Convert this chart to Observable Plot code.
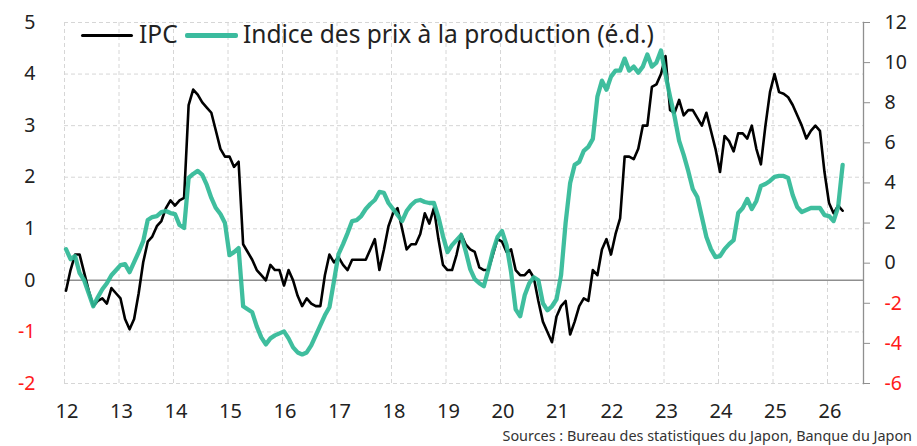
<!DOCTYPE html>
<html><head><meta charset="utf-8">
<script src="https://cdn.jsdelivr.net/npm/d3@7"></script>
<script src="https://cdn.jsdelivr.net/npm/@observablehq/plot@0.6"></script>
<style>
body{margin:0;background:#fff;font-family:"Noto Sans",sans-serif;}
#wrap{position:relative;width:917px;height:446px;overflow:hidden;}
.sw{position:absolute;border-radius:2px;}
.lt{position:absolute;font-size:24.5px;color:#222;white-space:nowrap;line-height:30px;top:19px;}
#caption{position:absolute;right:5px;top:426px;font-size:14.4px;color:#333;white-space:nowrap;}
</style></head><body>
<div id="wrap">
<div id="chart"></div>
<div class="sw" style="left:81px;top:33.5px;width:52px;height:3px;background:#000"></div>
<div class="lt" id="l1" style="left:139px"></div>
<div class="sw" style="left:185px;top:32.5px;width:53px;height:5px;background:#3bbb9e"></div>
<div class="lt" id="l2" style="left:243px"></div>
<div id="caption"></div>
</div>
<script>
const seriesNames = ["IPC", "Indice des prix à la production (é.d.)"];
const captionText = "Sources : Bureau des statistiques du Japon, Banque du Japon";
const startYear = 2012;
// IPC, % a/a (left axis), monthly from Jan 2012
const ipc = [
 -0.2,0.2,0.5,0.5,0.15,-0.2,-0.5,-0.4,-0.35,-0.45,-0.15,-0.25,
 -0.35,-0.75,-0.95,-0.75,-0.25,0.35,0.75,0.85,1.05,1.15,1.4,1.55,
 1.45,1.55,1.6,3.4,3.7,3.6,3.45,3.35,3.25,2.9,2.55,2.4,
 2.4,2.2,2.3,0.7,0.55,0.4,0.2,0.1,0.0,0.3,0.2,0.2,
 -0.1,0.2,0.0,-0.3,-0.5,-0.35,-0.45,-0.5,-0.5,0.1,0.5,0.35,
 0.45,0.3,0.2,0.4,0.4,0.4,0.4,0.6,0.8,0.2,0.6,1.05,
 1.3,1.4,1.0,0.6,0.7,0.7,0.9,1.3,1.1,1.4,0.8,0.3,
 0.2,0.2,0.5,0.9,0.7,0.6,0.55,0.25,0.2,0.2,0.5,0.8,
 0.75,0.55,0.6,0.2,0.1,0.1,0.2,0.05,-0.4,-0.8,-1.0,-1.2,
 -0.7,-0.5,-0.4,-1.05,-0.8,-0.5,-0.35,-0.4,0.2,0.1,0.6,0.8,
 0.5,0.9,1.2,2.4,2.4,2.35,2.55,3.0,3.0,3.75,3.8,4.0,
 4.35,3.3,3.25,3.5,3.2,3.3,3.3,3.15,3.0,3.25,2.9,2.55,
 2.1,2.8,2.7,2.5,2.85,2.85,2.75,3.0,2.55,2.25,3.0,3.65,
 4.0,3.65,3.62,3.55,3.4,3.2,3.0,2.75,2.9,3.0,2.9,2.1,
 1.5,1.3,1.45,1.35
];
// Producer price index, % a/a (right axis), monthly from Jan 2012
const ppi = [
 0.7,0.2,0.35,-0.5,-0.85,-1.5,-2.15,-1.7,-1.3,-1.0,-0.6,-0.35,
 -0.1,-0.05,-0.45,0.05,0.55,1.1,2.15,2.3,2.35,2.55,2.6,2.5,
 2.45,1.9,1.75,4.25,4.45,4.6,4.4,3.9,3.25,2.75,2.45,2.0,
 0.4,0.55,0.75,-2.15,-2.3,-2.45,-3.15,-3.7,-4.05,-3.75,-3.6,-3.5,
 -3.4,-3.75,-4.2,-4.45,-4.55,-4.45,-4.1,-3.6,-3.1,-2.6,-2.2,-0.9,
 0.45,0.95,1.5,2.1,2.15,2.35,2.7,2.95,3.15,3.55,3.5,3.0,
 2.7,2.4,2.1,2.6,2.9,3.1,3.15,3.05,3.0,3.0,2.3,1.35,
 0.55,0.9,1.15,1.4,0.6,-0.3,-0.8,-1.0,-1.15,-0.3,0.6,1.3,
 1.6,0.9,-0.45,-2.3,-2.65,-1.6,-1.0,-0.7,-0.85,-2.0,-2.35,-2.15,
 -1.8,-0.6,2.0,4.0,4.9,5.05,5.6,5.8,6.2,8.3,9.1,8.65,
 9.3,9.6,9.6,10.2,9.6,9.8,9.5,9.8,10.4,9.8,10.0,10.6,
 9.4,8.3,7.3,6.1,5.4,4.6,3.7,3.3,2.3,1.3,0.7,0.3,
 0.35,0.7,0.95,1.15,2.5,2.75,3.2,2.7,3.1,3.85,3.95,4.1,
 4.3,4.35,4.35,4.25,3.4,2.8,2.55,2.65,2.75,2.75,2.75,2.4,
 2.35,2.1,2.8,4.9
];
const yearTicks = [2012,2013,2014,2015,2016,2017,2018,2019,2020,2021,2022,2023,2024,2025,2026];
const leftTicks = [-2,-1,0,1,2,3,4,5];
const rightTicks = [-6,-4,-2,0,2,4,6,8,10,12];

const leftDomain = [-2, 5], rightDomain = [-6, 12];
const toLeft = r => leftDomain[0] + (r - rightDomain[0]) * (leftDomain[1]-leftDomain[0])/(rightDomain[1]-rightDomain[0]);
const fromLeft = v => String(Math.round(rightDomain[0] + (v - leftDomain[0]) * (rightDomain[1]-rightDomain[0])/(leftDomain[1]-leftDomain[0])));
const intFmt = d => String(Math.round(d));

const data = ipc.map((v, i) => ({t: startYear + (i + 0.33) / 12, ipc: v, ppi: toLeft(ppi[i])}));

const txt = "#222", red = "#ff1a1a", grid = "#d6d6d6";
const fs = 19.5;

const chart = Plot.plot({
  width: 917, height: 425,
  marginLeft: 64, marginRight: 54, marginTop: 22, marginBottom: 42,
  style: {fontFamily: "Noto Sans", background: "white", color: txt},
  x: {domain: [2012, 2026.66], label: null},
  y: {domain: leftDomain, label: null},
  marks: [
    Plot.gridX(yearTicks, {stroke: grid, strokeOpacity: 1, strokeDasharray: "4,3"}),
    Plot.gridY(leftTicks.filter(d => d !== 0), {stroke: grid, strokeOpacity: 1, strokeDasharray: "4,3"}),
    Plot.ruleY([0], {stroke: "#8f8f8f", strokeWidth: 1.5}),
    Plot.axisX(yearTicks, {tickSize: 0, tickPadding: 20, tickFormat: d => String(d).slice(2), fontSize: 20, fill: txt, dx: 2.5, label: null}),
    Plot.axisY(leftTicks.filter(d => d >= 0), {anchor: "left", tickSize: 0, tickPadding: 29, tickFormat: intFmt, fontSize: fs, fill: txt, label: null}),
    Plot.axisY(leftTicks.filter(d => d < 0), {anchor: "left", tickSize: 0, tickPadding: 29, tickFormat: intFmt, fontSize: fs, fill: red, label: null}),
    Plot.frame({anchor: "right", stroke: "#8f8f8f", strokeWidth: 1.3}),
    Plot.axisY(rightTicks.filter(d => d >= 0).map(toLeft), {anchor: "right", tickSize: 6, tickPadding: 15, tickFormat: fromLeft, stroke: "#8f8f8f", fontSize: fs, fill: txt, label: null}),
    Plot.axisY(rightTicks.filter(d => d < 0).map(toLeft), {anchor: "right", tickSize: 6, tickPadding: 15, tickFormat: fromLeft, stroke: "#8f8f8f", fontSize: fs, fill: red, label: null}),
    Plot.lineY(data, {x: "t", y: "ipc", stroke: "#000", strokeWidth: 2.6}),
    Plot.lineY(data, {x: "t", y: "ppi", stroke: "#2fb996", strokeOpacity: 0.92, strokeWidth: 4.3})
  ]
});
document.getElementById("chart").appendChild(chart);
document.getElementById("l1").textContent = seriesNames[0];
document.getElementById("l2").textContent = seriesNames[1];
document.getElementById("caption").textContent = captionText;
</script>
</body></html>
